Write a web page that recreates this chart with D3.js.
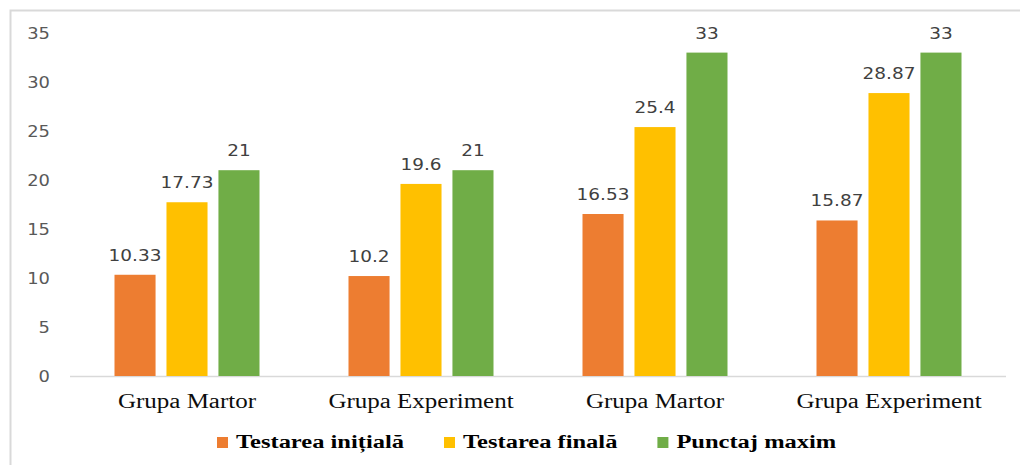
<!DOCTYPE html>
<html>
<head>
<meta charset="utf-8">
<script src="https://cdn.jsdelivr.net/npm/d3@7"></script>
<style>
  html, body { margin: 0; padding: 0; background: #fff; }
  svg { display: block; }
</style>
</head>
<body>
<svg id="chart" width="1020" height="465"></svg>
<script>
// Group labels along the category axis
const categories = ["Grupa Martor", "Grupa Experiment", "Grupa Martor", "Grupa Experiment"];
// Series names (legend order)
const seriesNames = ["Testarea inițială", "Testarea finală", "Punctaj maxim"];
// Values per series, one per group
const initialValues = [10.33, 10.2, 16.53, 15.87];
const finalValues = [17.73, 19.6, 25.4, 28.87];
const maxValues = [21, 21, 33, 33];
// Value labels as printed above each bar
const initialLabels = ["10.33", "10.2", "16.53", "15.87"];
const finalLabels = ["17.73", "19.6", "25.4", "28.87"];
const maxLabels = ["21", "21", "33", "33"];
const yTicks = [0, 5, 10, 15, 20, 25, 30, 35];

const seriesColors = ["#ED7D31", "#FFC000", "#70AD47"];
const seriesValues = [initialValues, finalValues, maxValues];
const seriesLabels = [initialLabels, finalLabels, maxLabels];

const svg = d3.select("#chart");

// Outer frame (only top and left edges fall inside the view)
svg.append("rect")
  .attr("x", 10.5).attr("y", 10.5)
  .attr("width", 1100).attr("height", 600)
  .attr("fill", "none")
  .attr("stroke", "#d9d9d9")
  .attr("stroke-width", 2);

const plot = { left: 70, right: 1006, top: 33, bottom: 376 };

const x0 = d3.scaleBand()
  .domain(d3.range(categories.length))
  .range([plot.left, plot.right])
  .paddingInner(0).paddingOuter(0);

const groupSpan = 145;
const bw = x0.bandwidth();
const x1 = d3.scaleBand()
  .domain(d3.range(seriesNames.length))
  .range([(bw - groupSpan) / 2, (bw + groupSpan) / 2])
  .paddingInner(0.21).paddingOuter(0);

const y = d3.scaleLinear().domain([0, 35]).range([plot.bottom, plot.top]);

// Horizontally stretched text helper
function stretched(sel, sx) {
  return sel.attr("transform", function () {
    const tx = +this.getAttribute("data-x"), ty = +this.getAttribute("data-y");
    return `translate(${tx},${ty}) scale(${sx},1)`;
  });
}

// Y axis tick labels (no axis line, no tick marks)
const yAxis = d3.axisLeft(y).tickValues(yTicks).tickSize(0).tickPadding(0);
const yG = svg.append("g").attr("transform", `translate(50,0)`).call(yAxis);
yG.select(".domain").remove();
yG.selectAll("text")
  .attr("fill", "#595959")
  .attr("font-family", "DejaVu Sans, Verdana, sans-serif")
  .attr("font-size", 16)
  .attr("dy", "0.36em")
  .attr("x", null)
  .each(function (d) {
    this.setAttribute("data-x", 0);
    this.setAttribute("data-y", y(d));
  });
yG.selectAll(".tick").attr("transform", null);
stretched(yG.selectAll("text"), 1.12);

// Category baseline
svg.append("line")
  .attr("x1", plot.left).attr("x2", plot.right)
  .attr("y1", y(0) + 0.5).attr("y2", y(0) + 0.5)
  .attr("stroke", "#d9d9d9").attr("stroke-width", 1.5);

// Bars
const groups = svg.append("g").selectAll("g")
  .data(categories)
  .join("g")
  .attr("transform", (d, i) => `translate(${x0(i)},0)`);

seriesNames.forEach((name, s) => {
  groups.append("rect")
    .attr("x", x1(s))
    .attr("width", x1.bandwidth())
    .attr("y", (d, i) => y(seriesValues[s][i]))
    .attr("height", (d, i) => y(0) - y(seriesValues[s][i]))
    .attr("fill", seriesColors[s]);

  groups.append("text")
    .attr("data-x", x1(s) + x1.bandwidth() / 2)
    .attr("data-y", (d, i) => y(seriesValues[s][i]) - 14)
    .attr("text-anchor", "middle")
    .attr("fill", "#404040")
    .attr("font-family", "DejaVu Sans, Verdana, sans-serif")
    .attr("font-size", 16.5)
    .text((d, i) => seriesLabels[s][i])
    .call(stretched, 1.12);
});

// Category labels
svg.append("g").selectAll("text")
  .data(categories)
  .join("text")
  .attr("data-x", (d, i) => x0(i) + bw / 2)
  .attr("data-y", 408)
  .attr("text-anchor", "middle")
  .attr("fill", "#0d0d0d")
  .attr("font-family", "Liberation Serif, Times New Roman, serif")
  .attr("font-size", 20)
  .text(d => d)
  .call(stretched, 1.25);

// Legend
const legend = svg.append("g");
let lx = 217;
const legendScale = 1.29;
seriesNames.forEach((name, s) => {
  legend.append("rect")
    .attr("x", lx).attr("y", 437)
    .attr("width", 11).attr("height", 11)
    .attr("fill", seriesColors[s]);
  const t = legend.append("text")
    .attr("data-x", lx + 19)
    .attr("data-y", 448)
    .attr("fill", "#000")
    .attr("font-family", "Liberation Serif, Times New Roman, serif")
    .attr("font-weight", "bold")
    .attr("font-size", 19)
    .text(name)
    .call(stretched, legendScale);
  const w = t.node().getComputedTextLength() * legendScale;
  lx = lx + 19 + w + 40;
});
</script>
</body>
</html>
